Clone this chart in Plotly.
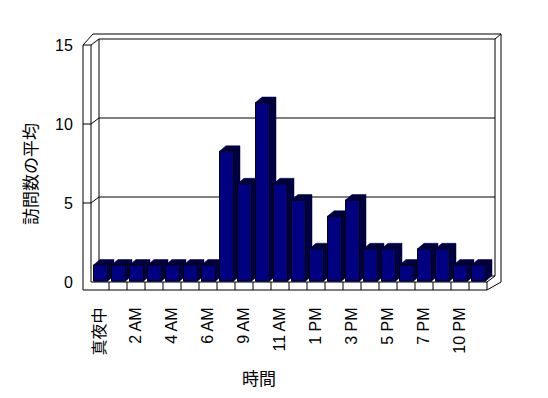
import plotly.graph_objects as go

# ---------------- data ----------------
categories = ["真夜中", "1 AM", "2 AM", "3 AM", "4 AM", "5 AM", "6 AM", "8 AM",
              "9 AM", "10 AM", "11 AM", "12 PM", "1 PM", "2 PM", "3 PM", "4 PM",
              "5 PM", "6 PM", "7 PM", "9 PM", "10 PM", "11 PM"]
values = [1, 1, 1, 1, 1, 1, 1, 8, 6, 11, 6, 5, 2, 4, 5, 2, 2, 1, 2, 2, 1, 1]
y_ticks = [0, 5, 10, 15]
x_title = "時間"
y_title = "訪問数の平均"

# ---------------- layout geometry ----------------
W, H = 548, 398
ML, MR, MT, MB = 78, 38, 20, 103
PX_L, PX_R, PX_T, PX_B = ML, W - MR, MT, H - MB
CAT_PX = 18.0
# front plane (axes / walls)
F_X0, F_Y0, F_UNIT = 100.0, 282.0, 15.8
# bars (slightly larger, as in 3D perspective)
B_X0, B_Y0, B_UNIT = 100.5, 281.25, 16.25

main_xr = [(PX_L - F_X0) / CAT_PX, (PX_R - F_X0) / CAT_PX]
main_yr = [(F_Y0 - PX_B) / F_UNIT, (F_Y0 - PX_T) / F_UNIT]
bar_xr = [(PX_L - B_X0) / CAT_PX, (PX_R - B_X0) / CAT_PX]
bar_yr = [(B_Y0 - PX_B) / B_UNIT, (B_Y0 - PX_T) / B_UNIT]

N = len(values)
YMAX = y_ticks[-1]
X0, X1 = -0.5, N - 0.5
DX, DY = 8 / CAT_PX, 6 / F_UNIT           # depth of the floor
WALL = 8 / CAT_PX                          # left wall thickness
FLOOR = 8 / F_UNIT                         # floor thickness
OX, OY = 22.278, 15.696                    # outer back-wall corner
OXL = -0.389

BAR_W = 14 / CAT_PX
BDX, BDY = 6.5 / CAT_PX, 5.5 / B_UNIT      # bar depth

NAVY = "#000080"
DARK = "#000040"

shapes = []


def path(pts):
    d = "M " + " L ".join(f"{x},{y}" for x, y in pts)
    shapes.append(dict(type="path", path=d, xref="x", yref="y", layer="below",
                       line=dict(color="black", width=1)))


# left wall
path([(X0 - WALL, -FLOOR), (X0 - WALL, YMAX), (X0, YMAX), (X0, 0)])
path([(X0 - WALL, YMAX), (OXL, OY), (OX, OY), (OX, 0)])
path([(X0, YMAX), (X0 + DX, YMAX + DY), (X1 + DX, YMAX + DY), (X1 + DX, DY)])
path([(X0 + DX, YMAX + DY), (X0 + DX, DY)])
path([(X1 + DX, YMAX + DY), (OX, OY)])
# gridlines
for v in y_ticks[1:-1]:
    path([(X0 - WALL, v), (X0, v), (X0 + DX, v + DY), (X1 + DX, v + DY)])
# floor
path([(X0, 0), (X1, 0), (X1, -FLOOR), (X0 - WALL, -FLOOR)])
path([(X1, -FLOOR), (OX, 0)])
path([(X1, 0), (X1 + DX, DY), (X0 + DX, DY)])
for k in range(1, N):
    path([(X0 + k, 0), (X0 + k, -FLOOR)])

fig = go.Figure()

# side + top faces of the bars (drawn left to right)
for i, v in enumerate(values):
    L, R = i - BAR_W / 2, i + BAR_W / 2
    xs = [L, L + BDX, R + BDX, R + BDX, R, R, L]
    ys = [v, v + BDY, v + BDY, BDY, 0, v, v]
    fig.add_trace(go.Scatter(x=xs, y=ys, xaxis="x2", yaxis="y2", mode="lines",
                             fill="toself", fillcolor=DARK,
                             line=dict(color=DARK, width=0.5),
                             hoverinfo="skip", showlegend=False))

# front faces
fig.add_trace(go.Bar(x=list(range(N)), y=values, xaxis="x3", yaxis="y3",
                     width=BAR_W, marker=dict(color=NAVY, line=dict(color="black", width=1)),
                     hovertext=categories, showlegend=False))

font_lat = "Liberation Sans, Noto Sans CJK JP, sans-serif"
font_cjk = "Noto Sans CJK JP, sans-serif"

fig.update_layout(
    width=W, height=H,
    margin=dict(l=ML, r=MR, t=MT, b=MB),
    paper_bgcolor="white", plot_bgcolor="white",
    showlegend=False,
    shapes=shapes,
    font=dict(family=font_lat, size=16, color="black"),
    xaxis=dict(range=main_xr, showgrid=False, zeroline=False, showline=False,
               tickmode="array", tickvals=list(range(0, N, 2)),
               ticktext=categories[0::2], tickangle=-90,
               ticks="outside", ticklen=5, tickcolor="rgba(0,0,0,0)",
               tickfont=dict(family=font_lat, size=16, color="black")),
    yaxis=dict(range=main_yr, showgrid=False, zeroline=False, showline=False,
               tickmode="array", tickvals=y_ticks,
               ticks="outside", ticklen=1, tickcolor="rgba(0,0,0,0)",
               tickfont=dict(family=font_lat, size=16, color="black")),
    xaxis2=dict(overlaying="x", range=bar_xr, visible=False),
    yaxis2=dict(overlaying="y", range=bar_yr, visible=False),
    xaxis3=dict(overlaying="x", range=bar_xr, visible=False),
    yaxis3=dict(overlaying="y", range=bar_yr, visible=False),
    annotations=[
        dict(text=y_title, xref="paper", yref="paper",
             x=(29 - PX_L) / (PX_R - PX_L), y=(PX_B - 174) / (PX_B - PX_T),
             textangle=-90, showarrow=False, xanchor="center", yanchor="middle",
             font=dict(family=font_cjk, size=17, color="black")),
        dict(text=x_title, xref="paper", yref="paper",
             x=(259 - PX_L) / (PX_R - PX_L), y=(PX_B - 377) / (PX_B - PX_T),
             showarrow=False, xanchor="center", yanchor="middle",
             font=dict(family=font_cjk, size=17, color="black")),
    ],
)

fig.write_html("out.html")
